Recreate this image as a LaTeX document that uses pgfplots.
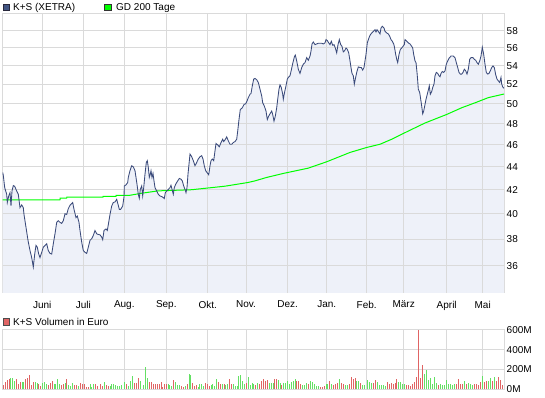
\documentclass[border=0pt]{standalone}
\usepackage{pgfplots}
\pgfplotsset{compat=1.18}
\usepackage{pgfplotstable}
\usepackage{fontspec}
\setmainfont{Liberation Sans}
\definecolor{pline}{RGB}{58,74,122}
\definecolor{pfill}{RGB}{238,241,249}
\definecolor{gridc}{RGB}{218,218,218}
\definecolor{gdgreen}{RGB}{0,255,0}
\definecolor{vred}{RGB}{224,100,100}
\definecolor{vgreen}{RGB}{100,224,100}

\pgfplotstableread{
x y
2.7 43.5
3.3 43.24
4.7 42.18
6.7 41.61
7.3 40.92
8.7 41.47
10 41.75
11 40.64
12 41.89
13.3 42.35
14.7 42.29
16.7 41.89
18.3 41.61
20 40.5
21.7 40.72
23.3 40.5
24 39.95
26 38.92
28 37.9
30 37.12
31.7 36.6
33.3 35.9
34.7 36.86
36 37.51
37.3 37.38
38.7 36.86
40 36.6
41.7 36.99
43.3 37.38
45 37.51
46.7 37.64
48.3 37.12
50 36.91
51.7 36.86
53.3 37.64
55 38.41
56.7 39.31
58.3 39.44
60 39.31
61.7 39.23
63.3 39.44
65 40.0
66.7 39.95
68.3 40.42
70 40.69
71.7 40.83
72.7 40.92
74 40.36
76 39.69
77.3 39.82
79 39.31
80 38.67
81.7 37.77
83.3 37.12
85 36.99
86.7 36.91
88.3 37.38
90 37.9
91.7 38.03
93.3 38.28
95 38.67
96.7 38.41
98.3 38.36
100 38.33
101.7 38.15
102.7 37.95
104 38.67
106 38.79
107.3 38.67
108.7 39.31
110 39.95
111.7 40.64
113.3 40.92
115 40.97
116.7 41.19
118 40.78
119.3 40.36
120.7 40.36
122.7 40.64
124 41.39
124.3 42.32
126 42.41
127.7 42.62
128.3 43.06
130 43.65
131.7 44.09
133.3 44.0
135 43.65
136 43.06
137 42.47
138.3 41.61
139.3 41.28
140.3 42.03
141.7 42.32
142.7 41.47
143.7 42.18
145 43.35
146.3 44.39
147.3 44.55
148.3 43.94
149.3 43.06
150.3 43.35
151 43.65
152 43.06
153 43.41
154 42.76
155 42.18
156.7 41.89
158.3 41.61
160 41.47
161.7 41.42
163.3 41.33
164.3 41.25
165.3 41.75
166.7 41.89
168.3 42.03
170 42.18
171 42.38
172.3 41.94
173.3 41.61
174.3 42.18
175.7 42.47
177.7 42.76
179.3 42.97
181 42.91
182.3 42.76
183.7 42.32
185 42.03
186 41.75
187 42.18
188 43.35
189 44.24
190 45.15
191.7 44.91
193.3 44.55
195 44.09
196.7 44.39
198.3 44.7
200 44.91
201.7 45.0
203 44.7
204.3 44.09
205.7 43.65
207.7 43.41
208.7 43.29
210 44.09
211 44.55
212.3 44.7
213.7 44.55
215 45.45
216 46.13
217.7 46.0
219.3 45.82
221 46.22
222.7 46.53
223.7 46.31
225 46.47
226.7 46.75
228.3 46.38
230 46.06
231.7 46.06
233.3 46.22
235 46.31
236.7 46.53
237.7 47.31
239 48.43
240.3 49.43
241.7 49.53
242.7 49.67
244 49.93
245.7 50.0
247 50.28
248.3 50.63
250 50.98
251 51.05
252.3 51.86
253.7 52.57
255 52.64
256.7 52.5
258.3 52.21
260 51.51
261.7 50.81
262.7 50.11
264.3 49.77
266 49.27
267.3 48.43
268.7 48.77
270 49.0
271.7 49.27
272.7 48.93
274 48.27
275.3 48.77
276.7 49.6
277.7 50.46
279 51.51
280 51.96
281.3 51.68
282.7 50.98
283.3 50.46
284.3 51.05
286 51.86
287.3 52.57
288.3 52.75
290 52.93
291.3 53.54
292.7 54.25
294.3 54.98
295.3 55.2
296.7 54.55
298.3 53.64
300 53.18
301.7 53.82
303.3 54.18
305 54.36
306.7 54.91
308.3 54.62
310 55.09
311 55.64
312 56.46
313.3 56.69
315 56.38
316.7 56.46
318.3 56.54
320 56.54
321.7 56.54
323.3 56.46
325 56.58
326 56.96
327.3 56.85
328.7 56.58
330 56.38
331.3 56.77
332.7 56.31
334 56.38
335.3 56.0
336.7 55.45
338 56.38
339.3 56.96
340.7 56.38
342 56.19
343.3 55.56
344.7 55.71
346 56.0
347.3 55.85
348.7 55.45
350 54.55
351 53.82
352 53.18
353.3 52.93
354.3 52.04
355.3 52.57
356.7 53.29
358.3 53.89
360 53.82
361.3 53.82
362.7 53.54
364 53.82
365 54.55
366 55.27
367.3 56.58
368.7 57.08
370 57.46
371.7 57.73
373.3 57.92
375 58.12
376 57.85
377 58.12
378.3 57.92
380 57.62
381 58.32
382.3 58.52
384 58.32
385 57.92
386.7 57.73
388.3 57.62
389.7 57.35
391 56.96
392.3 56.77
393.7 56.46
394.3 56.19
395.7 55.27
396.7 54.73
397.7 54.36
399 55.27
400.3 55.82
401.7 56.0
403 56.19
404.3 56.38
405 56.96
406.7 56.77
408.3 56.58
410 56.46
411.7 56.19
412.7 56.0
413.7 55.27
415 54.55
416 54.36
417 53.29
417.7 52.39
418.3 51.51
419.7 51.16
420.7 50.46
421.7 49.77
422.7 49.0
423.7 49.27
425 49.93
426 50.46
427.3 50.98
428.3 51.4
429.3 51.86
430.3 50.98
431.7 51.26
432.7 51.68
434 52.04
435 52.93
436.3 53.29
437.7 53.18
439 52.93
440 52.82
441 53.18
442.3 53.39
443.7 53.29
445 53.46
446.3 54.18
447.7 54.55
449 54.84
451 55.09
453.3 55.09
455 54.91
456.3 54.36
457.7 53.82
459 53.29
460.3 53.11
461.7 53.11
463 53.29
464.3 53.64
465.7 53.46
467 53.11
468.3 53.64
469.7 54.73
471 54.91
473 54.91
474.3 54.73
475.7 54.62
477 54.36
478.3 54.18
479.7 54.55
481 55.09
482.3 56.08
483.7 55.27
485 54.18
486.3 53.29
487.7 53.11
489 53.18
490.3 53.46
491.7 53.82
493 54.0
494.3 53.82
495.7 53.04
497 52.57
498.3 52.39
499.7 52.21
501 52.75
501.7 52.04
502.7 51.75
504 51.6
}\price

\pgfplotstableread{
x y
2.7 41.14
60 41.14
60.1 41.28
66.7 41.28
66.8 41.38
103 41.38
103.1 41.44
116 41.44
116.1 41.53
130 41.53
141.7 41.7
158 41.9
191.7 42.0
225 42.3
248 42.62
255 42.76
266.7 43.06
283.3 43.41
308.3 43.88
326.7 44.45
350 45.3
366.7 45.76
380 46.06
391.7 46.53
408.3 47.31
425 48.09
446.7 48.93
461.7 49.6
475 50.1
488.3 50.63
503 50.98
504 51.0
}\gd

\begin{document}
\begin{tikzpicture}[font=\fontsize{10}{12}\selectfont]
\useasboundingbox (0pt,0pt) rectangle (545pt,-398pt);
% legends
\filldraw[fill={rgb,255:red,65;green,85;blue,130},draw={rgb,255:red,40;green,40;blue,60},line width=0.6pt] (3pt,-4pt) rectangle (9.5pt,-10.5pt);
\node[anchor=base west,inner sep=0pt] at (13pt,-10.8pt) {K+S (XETRA)};
\filldraw[fill=gdgreen,draw=black!80,line width=0.6pt] (104.5pt,-4pt) rectangle (111pt,-10.5pt);
\node[anchor=base west,inner sep=0pt] at (116pt,-10.8pt) {GD 200 Tage};
\filldraw[fill=vred,draw=black!70,line width=0.6pt] (3pt,-318.5pt) rectangle (9.5pt,-325pt);
\node[anchor=base west,inner sep=0pt] at (13pt,-325.5pt) {K+S Volumen in Euro};

\begin{axis}[
  at={(2.7pt,-14pt)}, anchor=north west,
  scale only axis, width=501.3pt, height=278.7pt,
  xmin=2.7, xmax=504,
  ymode=log, ymin=34.08, ymax=60,
  ytick={36,38,40,42,44,46,48,50,52,54,56,58},
  yticklabels={36,38,40,42,44,46,48,50,52,54,56,58},
  yticklabel pos=right,
  xtick={42.3,83.3,124.3,166.3,207.7,246,287.7,326.7,366.7,403.7,446.7,482.7},
  xticklabels={Juni,Juli,Aug.,Sep.,Okt.,Nov.,Dez.,Jan.,Feb.,März,April,Mai},
  major tick length=0pt,
  tick style={draw=none},
  grid=none,
  axis line style={gridc, line width=1pt},
  ticklabel style={font=\fontsize{10}{12}\selectfont},
  yticklabel style={anchor=west, inner sep=0pt, xshift=2.5pt},
  xticklabel style={anchor=north, inner sep=0pt, yshift=-8pt},
]
\addplot[fill=pfill, draw=none] table {\price} -- (axis cs:504,30) -- (axis cs:2.7,30) -- cycle;
\pgfplotsinvokeforeach{36,38,40,42,44,46,48,50,52,54,56,58}{
  \draw[gridc, line width=1pt] (axis cs:2.7,#1) -- (axis cs:504,#1);
}
\pgfplotsinvokeforeach{42.3,83.3,124.3,166.3,207.7,246,287.7,326.7,366.7,403.7,446.7,482.7}{
  \draw[gridc, line width=1pt] (axis cs:#1,34.08) -- (axis cs:#1,60);
}
\addplot[gdgreen, line width=1pt, sharp plot] table {\gd};
\addplot[pline, line width=0.85pt, sharp plot] table {\price};
\end{axis}

\begin{axis}[
  at={(2.7pt,-329.7pt)}, anchor=north west,
  scale only axis, width=501.3pt, height=59.6pt,
  xmin=2.7, xmax=504, ymin=0, ymax=600,
  ytick={0,200,400,600},
  yticklabels={0M,200M,400M,600M},
  yticklabel pos=right,
  xtick={42.3,83.3,124.3,166.3,207.7,246,287.7,326.7,366.7,403.7,446.7,482.7},
  xticklabels={},
  major tick length=0pt,
  tick style={draw=none},
  grid=major,
  grid style={gridc, line width=1pt},
  axis line style={gridc, line width=1pt},
  ticklabel style={font=\fontsize{10}{12}\selectfont},
  yticklabel style={anchor=west, inner sep=0pt, xshift=2.5pt},
]
\addplot[ycomb, vred, line width=1pt, mark=none] coordinates {
(3,43) (5,77) (7,94) (9.3,105) (16,104) (18,54) (20,74) (25.3,104) (27.3,117) (29.3,144)
(31.3,44) (33.3,74) (38.7,54) (40,37) (48.3,47) (50.3,64) (52.3,84) (61.3,40) (63.3,50) (66.3,104)
(74.3,44) (76.3,44) (80,64) (82,54) (84,54) (86,27) (88,27) (95.3,54) (97.3,37) (100,54)
(102,37) (106.3,44) (108.3,37) (126,54) (134.3,64) (136.3,64) (138.3,114) (149.3,74) (151.3,74) (153,54)
(155,54) (157,54) (159,54) (161,74) (162.7,27) (164.7,54) (166.3,54) (173.3,94) (181.3,34) (183.3,24)
(187,54) (192.7,64) (194.7,34) (196.3,44) (205.7,64) (207.7,54) (209.7,34) (218.3,74) (220.3,54) (224,54)
(229.3,104) (231.3,54) (246,64) (255,44) (259,54) (261,84) (263,104) (265,84) (267,94) (274.3,104)
(276.3,104) (281.7,44) (296.7,84) (298.3,84) (300,54) (308.3,54) (320.3,24) (322.3,24) (324,34) (329.7,84)
(333.7,44) (335.7,54) (337.7,64) (341.3,64) (343.3,54) (349.3,54) (351.3,124) (353.3,104) (355.3,114) (360.3,64)
(373,64) (375,94) (387.3,74) (389.3,54) (391.3,64) (393.3,54) (395.3,64) (396.9,104) (406.7,44) (408.7,44)
(410.7,34) (412.7,54) (414.7,74) (416.5,124) (418.7,597) (420.7,114) (422.7,244) (438.7,44) (456.7,54) (458.7,104)
(460.7,54) (462.7,54) (466.7,54) (474.7,54) (476.7,54) (478.7,44) (480.7,74) (484,74) (486,84) (492,84)
(496,84) (498,124) (500,94) (502,44)
};
\addplot[ycomb, vgreen, line width=1pt, mark=none] coordinates {
(10.7,115) (12.2,117) (14,84) (22,74) (23.7,74) (35.3,74) (37.1,67) (42.3,67) (44.3,74) (46.3,54)
(54,54) (55.6,54) (57.3,104) (59.3,54) (65,64) (68.3,44) (70.3,37) (72.3,64) (78.3,34) (90,54)
(91.6,24) (93.3,54) (104.3,74) (110,37) (111.6,54) (113.3,54) (115.3,44) (117.3,37) (119.3,34) (121.3,44)
(124,74) (128.3,34) (130.3,84) (132.3,134) (140.3,84) (143,44) (145.3,224) (147.3,114) (168,54) (169.6,44)
(171.3,34) (175.3,74) (177.3,44) (179.3,44) (185.3,34) (189,154) (190.7,144) (198,24) (199.7,54) (201.7,54)
(203.7,34) (211.3,44) (212.9,54) (214.5,34) (216.3,104) (222.3,54) (225.9,44) (227.5,54) (233.3,54) (235.3,34)
(237,34) (238.7,134) (240.3,144) (242.3,84) (244.3,54) (248,124) (250,44) (252,64) (253.7,54) (257,64)
(269,64) (271,64) (273,64) (278.3,94) (280,64) (283.7,64) (285.7,64) (287.7,84) (289.3,54) (291,74)
(293,84) (295,104) (302.3,44) (304.3,44) (306.3,64) (310.3,84) (312.3,74) (314.3,54) (316.3,34) (318.3,34)
(326,54) (327.7,54) (331.7,54) (339.3,104) (345.3,44) (347.3,44) (356.9,84) (358.7,84) (362.3,44) (364.3,44)
(367,94) (369,74) (371,64) (377,74) (379,44) (381.3,44) (383.3,44) (385.3,34) (398.7,74) (400.7,74)
(402.7,54) (404.7,54) (424.7,154) (426.7,197) (428.7,94) (430.7,114) (432.7,54) (434.7,124) (436.7,64) (440.7,54)
(442.7,44) (444.7,44) (446.7,94) (448.7,54) (450.7,54) (452.7,44) (454.7,54) (464.7,84) (468.7,64) (470.7,54)
(472.7,44) (482,134) (488,84) (490,114) (494,124)
};
\end{axis}
\end{tikzpicture}
\end{document}
